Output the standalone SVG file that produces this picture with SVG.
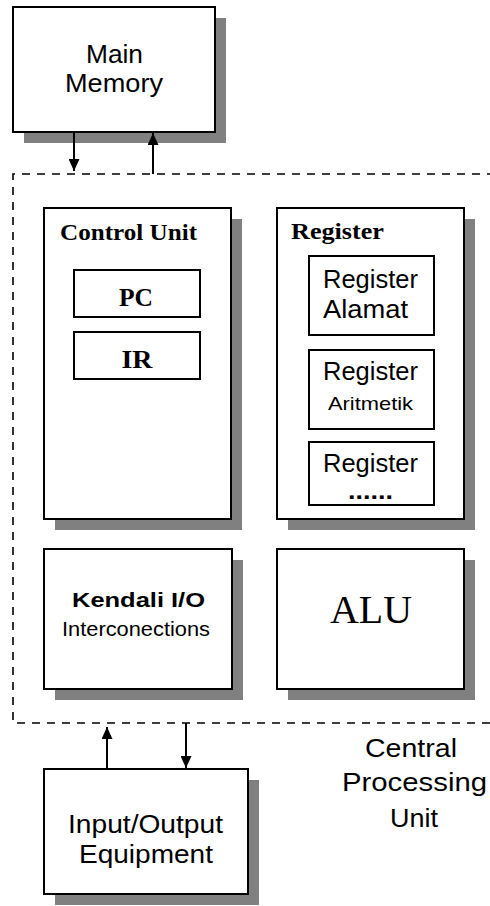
<svg xmlns="http://www.w3.org/2000/svg" width="490" height="906" viewBox="0 0 490 906">
<defs>
<style>
.box{fill:#fff;stroke:#000;stroke-width:2}
.sh{fill:#808080}
.ln{stroke:#000;stroke-width:2;fill:none}
.dash{stroke:#000;stroke-width:1.6;fill:none;stroke-dasharray:8 7}
.s{font-family:"Liberation Sans",Arial,sans-serif;fill:#000}
.sb{font-family:"Liberation Sans",Arial,sans-serif;font-weight:bold;fill:#000}
.rb{font-family:"Liberation Serif","Times New Roman",serif;font-weight:bold;fill:#000}
.r{font-family:"Liberation Serif","Times New Roman",serif;fill:#000}
</style>
<marker id="ah" viewBox="0 0 12 11" markerWidth="12" markerHeight="11" refX="12" refY="5.5" orient="auto" markerUnits="userSpaceOnUse">
<path d="M0,0 L12,5.5 L0,11 z" fill="#000"/>
</marker>
</defs>
<rect width="490" height="906" fill="#fff"/>

<g id="cpu-boundary">
<path class="dash" d="M495 174 H13 V723 H495"/>
<g class="s" font-size="26" text-anchor="middle">
<text x="411" y="757" textLength="92" lengthAdjust="spacingAndGlyphs">Central</text>
<text x="414.5" y="791" textLength="145" lengthAdjust="spacingAndGlyphs">Processing</text>
<text x="414" y="827" textLength="48" lengthAdjust="spacingAndGlyphs">Unit</text>
</g>
</g>

<g id="main-memory">
<rect class="sh" x="24" y="18" width="202" height="125"/>
<rect class="box" x="13" y="7" width="202" height="125"/>
<text class="s" font-size="26" text-anchor="middle" x="114.5" y="63" textLength="57" lengthAdjust="spacingAndGlyphs">Main</text>
<text class="s" font-size="26" text-anchor="middle" x="114" y="92" textLength="98" lengthAdjust="spacingAndGlyphs">Memory</text>
</g>

<g id="control-unit">
<rect class="sh" x="55" y="219" width="187" height="311"/>
<rect class="box" x="44" y="208" width="187" height="311"/>
<text class="rb" font-size="23" x="60" y="240" textLength="137" lengthAdjust="spacingAndGlyphs">Control Unit</text>
<g id="pc">
<rect class="box" x="74" y="270" width="126" height="47"/>
<text class="rb" font-size="26" text-anchor="middle" x="136" y="306" textLength="34" lengthAdjust="spacingAndGlyphs">PC</text>
</g>
<g id="ir">
<rect class="box" x="74" y="332" width="126" height="47"/>
<text class="rb" font-size="26" text-anchor="middle" x="137" y="368" textLength="31" lengthAdjust="spacingAndGlyphs">IR</text>
</g>
</g>

<g id="register">
<rect class="sh" x="288" y="219" width="187" height="311"/>
<rect class="box" x="277" y="208" width="187" height="311"/>
<text class="rb" font-size="23" x="291" y="239" textLength="93" lengthAdjust="spacingAndGlyphs">Register</text>
<g id="register-alamat">
<rect class="box" x="309" y="256" width="125" height="79"/>
<text class="s" font-size="25" text-anchor="middle" x="370.5" y="288" textLength="95" lengthAdjust="spacingAndGlyphs">Register</text>
<text class="s" font-size="25" text-anchor="middle" x="365.5" y="318" textLength="85" lengthAdjust="spacingAndGlyphs">Alamat</text>
</g>
<g id="register-aritmetik">
<rect class="box" x="309" y="350" width="125" height="79"/>
<text class="s" font-size="25" text-anchor="middle" x="370.5" y="380" textLength="95" lengthAdjust="spacingAndGlyphs">Register</text>
<text class="s" font-size="19" text-anchor="middle" x="370.5" y="410" textLength="85" lengthAdjust="spacingAndGlyphs">Aritmetik</text>
</g>
<g id="register-other">
<rect class="box" x="309" y="442" width="125" height="63"/>
<text class="s" font-size="25" text-anchor="middle" x="370.5" y="472" textLength="95" lengthAdjust="spacingAndGlyphs">Register</text>
<text class="sb" font-size="24" text-anchor="middle" x="370.5" y="499" textLength="45" lengthAdjust="spacingAndGlyphs">......</text>
</g>
</g>

<g id="kendali-io">
<rect class="sh" x="55" y="560" width="188" height="140"/>
<rect class="box" x="44" y="549" width="188" height="140"/>
<text class="sb" font-size="20" text-anchor="middle" x="138.5" y="607" textLength="133" lengthAdjust="spacingAndGlyphs">Kendali I/O</text>
<text class="s" font-size="21" text-anchor="middle" x="136" y="636" textLength="148" lengthAdjust="spacingAndGlyphs">Interconections</text>
</g>

<g id="alu">
<rect class="sh" x="288" y="560" width="187" height="140"/>
<rect class="box" x="277" y="549" width="187" height="140"/>
<text class="r" font-size="40" text-anchor="middle" x="371" y="623" textLength="82" lengthAdjust="spacingAndGlyphs">ALU</text>
</g>

<g id="io-equipment">
<rect class="sh" x="55" y="780" width="204" height="125"/>
<rect class="box" x="44" y="769" width="204" height="125"/>
<text class="s" font-size="26" text-anchor="middle" x="145.5" y="833" textLength="155" lengthAdjust="spacingAndGlyphs">Input/Output</text>
<text class="s" font-size="26" text-anchor="middle" x="146" y="863" textLength="134" lengthAdjust="spacingAndGlyphs">Equipment</text>
</g>

<g id="connectors">
<line class="ln" x1="74" y1="133" x2="74" y2="171" marker-end="url(#ah)"/>
<line class="ln" x1="153" y1="174" x2="153" y2="133" marker-end="url(#ah)"/>
<line class="ln" x1="107" y1="768" x2="107" y2="727" marker-end="url(#ah)"/>
<line class="ln" x1="186" y1="723" x2="186" y2="768" marker-end="url(#ah)"/>
</g>
</svg>
